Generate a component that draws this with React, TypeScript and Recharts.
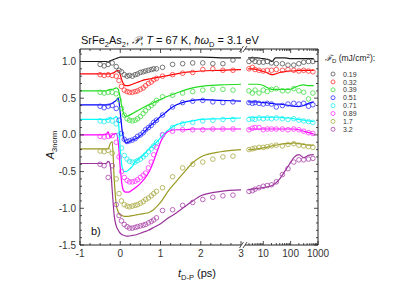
import React from 'react';
import { LineChart, Line, XAxis, YAxis } from 'recharts';

const FONT = '"Liberation Sans", Arial, sans-serif';

// ---------- categories / labels ----------
const SERIES_LABELS = ['0.19', '0.32', '0.39', '0.51', '0.71', '0.89', '1.7', '3.2'];
const LINE_COLORS = ['#1a1a1a', '#ff0000', '#22dd22', '#0000ff', '#00ffff', '#ff00ff', '#999922', '#993399'];
const DOT_COLORS = ['#555555', '#ff3333', '#44dd44', '#3333ff', '#22eeee', '#ff33ff', '#aaaa44', '#aa44aa'];

const X_LEFT_MAJOR = [-1, 0, 1, 2, 3];
const X_RIGHT_MAJOR = [10, 100, 1000];
const Y_MAJOR = [-1.5, -1, -0.5, 0, 0.5, 1];

// ---------- time grids ----------
const T_DOTS_LEFT = [-0.5, -0.4, -0.3, -0.2, -0.1, -0.03, 0.03, 0.1, 0.17, 0.23, 0.3, 0.37, 0.43, 0.5, 0.57, 0.63, 0.7, 0.77, 0.83, 0.9, 1.05, 1.3, 1.55, 1.8, 2.05, 2.3, 2.55, 2.8];
const T_DOTS_RIGHT = [3, 4, 5, 7, 10, 14, 20, 30, 50, 80, 130, 200, 300, 450, 650];
const T_FIT_LEFT = [-1, -0.5, -0.35, -0.3, -0.25, -0.2, -0.15, -0.1, -0.05, 0, 0.05, 0.1, 0.15, 0.2, 0.3, 0.4, 0.5, 0.6, 0.7, 0.8, 0.9, 1.0, 1.1, 1.2, 1.4, 1.6, 1.8, 2.0, 2.5, 3.0];
const T_FIT_RIGHT = [2.8, 4, 6, 9, 13, 17, 21, 28, 40, 60, 90, 130, 200, 300, 450, 700];

// ---------- measured points (circles) ----------
const dots019L = [0.96, 0.94, 0.96, 0.98, 0.93, 0.88, 0.86, 0.82, 0.80, 0.81, 0.80, 0.82, 0.83, 0.85, 0.86, 0.87, 0.88, 0.89, 0.90, 0.90, 0.92, 0.96, 0.97, 0.98, 0.98, 0.97, 0.97, 1.02];
const dots032L = [0.82, 0.81, 0.82, 0.81, 0.80, 0.74, 0.66, 0.61, 0.59, 0.58, 0.58, 0.59, 0.60, 0.62, 0.64, 0.67, 0.70, 0.72, 0.75, 0.77, 0.80, 0.82, 0.84, 0.85, 0.89, 0.90, 0.88, 0.88];
const dots039L = [0.58, 0.57, 0.58, 0.58, 0.56, 0.48, 0.36, 0.27, 0.22, 0.20, 0.19, 0.20, 0.22, 0.25, 0.29, 0.33, 0.37, 0.40, 0.43, 0.47, 0.52, 0.54, 0.57, 0.59, 0.61, 0.62, 0.62, 0.61];
const dots051L = [0.39, 0.37, 0.39, 0.40, 0.36, 0.20, 0.02, -0.06, -0.09, -0.08, -0.07, -0.05, -0.02, 0.00, 0.03, 0.07, 0.10, 0.13, 0.17, 0.20, 0.27, 0.38, 0.44, 0.46, 0.47, 0.45, 0.44, 0.45];
const dots071L = [0.19, 0.18, 0.20, 0.19, 0.15, 0.00, -0.18, -0.28, -0.33, -0.36, -0.37, -0.37, -0.35, -0.33, -0.30, -0.27, -0.23, -0.19, -0.15, -0.10, 0.00, 0.10, 0.15, 0.17, 0.19, 0.20, 0.21, 0.21];
const dots089L = [-0.02, -0.03, -0.02, -0.01, -0.10, -0.30, -0.50, -0.58, -0.62, -0.64, -0.64, -0.63, -0.61, -0.58, -0.55, -0.52, -0.45, -0.37, -0.27, -0.17, 0.00, 0.05, 0.07, 0.07, 0.07, 0.08, 0.08, 0.08];
const dots17L = [-0.22, -0.23, -0.21, -0.25, -0.60, -0.80, -0.90, -0.95, -0.97, -0.98, -0.97, -0.96, -0.95, -0.93, -0.91, -0.88, -0.86, -0.83, -0.80, -0.77, -0.72, -0.57, -0.45, -0.40, -0.37, -0.33, -0.30, -0.29];
const dots32L = [-0.40, -0.42, -0.58, -0.42, -0.95, -1.10, -1.17, -1.22, -1.25, -1.27, -1.27, -1.26, -1.25, -1.24, -1.23, -1.22, -1.20, -1.18, -1.16, -1.13, -1.03, -1.02, -0.96, -0.92, -0.88, -0.85, -0.83, -0.82];

const dots019R = [1.00, 1.03, 1.00, 0.99, 0.99, 1.00, 0.98, 0.97, 0.97, 0.95, 0.95, 0.97, 0.99, 1.00, 1.00];
const dots032R = [0.90, 0.92, 0.89, 0.88, 0.87, 0.88, 0.88, 0.89, 0.88, 0.89, 0.88, 0.87, 0.88, 0.87, 0.86];
const dots039R = [0.60, 0.57, 0.61, 0.57, 0.61, 0.59, 0.62, 0.63, 0.60, 0.60, 0.63, 0.60, 0.58, 0.49, 0.57];
const dots051R = [0.44, 0.43, 0.44, 0.43, 0.42, 0.43, 0.42, 0.38, 0.40, 0.42, 0.43, 0.42, 0.43, 0.39, 0.41];
const dots071R = [0.21, 0.22, 0.21, 0.23, 0.22, 0.23, 0.22, 0.23, 0.22, 0.21, 0.22, 0.20, 0.19, 0.18, 0.17];
const dots089R = [0.07, 0.09, 0.10, 0.10, 0.07, 0.08, 0.08, 0.08, 0.08, 0.07, 0.08, 0.07, 0.05, 0.03, 0.02];
const dots17R = [-0.20, -0.19, -0.18, -0.17, -0.17, -0.16, -0.15, -0.14, -0.15, -0.13, -0.12, -0.14, -0.15, -0.16, -0.17];
const dots32R = [-0.77, -0.76, -0.74, -0.72, -0.70, -0.69, -0.68, -0.64, -0.54, -0.46, -0.37, -0.34, -0.34, -0.33, -0.32];

// ---------- model curves (lines) ----------
const fit019L = [1.00, 1.00, 1.00, 0.99, 1.01, 1.02, 1.03, 1.04, 1.05, 1.06, 1.06, 1.06, 1.06, 1.06, 1.06, 1.06, 1.06, 1.06, 1.06, 1.06, 1.06, 1.06, 1.06, 1.06, 1.06, 1.06, 1.06, 1.06, 1.05, 1.05];
const fit032L = [0.83, 0.83, 0.83, 0.83, 0.83, 0.84, 0.85, 0.87, 0.88, 0.82, 0.73, 0.68, 0.67, 0.67, 0.69, 0.71, 0.73, 0.75, 0.76, 0.77, 0.78, 0.79, 0.80, 0.81, 0.83, 0.85, 0.86, 0.87, 0.88, 0.89];
const fit039L = [0.60, 0.60, 0.60, 0.61, 0.62, 0.62, 0.63, 0.64, 0.62, 0.50, 0.36, 0.27, 0.25, 0.26, 0.29, 0.32, 0.35, 0.38, 0.41, 0.43, 0.46, 0.48, 0.51, 0.53, 0.57, 0.61, 0.64, 0.66, 0.68, 0.69];
const fit051L = [0.41, 0.41, 0.41, 0.41, 0.42, 0.43, 0.45, 0.47, 0.50, 0.30, 0.05, -0.07, -0.11, -0.10, -0.07, -0.05, -0.01, 0.04, 0.10, 0.15, 0.20, 0.25, 0.29, 0.34, 0.41, 0.45, 0.47, 0.48, 0.47, 0.46];
const fit071L = [0.21, 0.21, 0.21, 0.21, 0.24, 0.22, 0.23, 0.25, 0.20, -0.20, -0.45, -0.50, -0.50, -0.48, -0.43, -0.35, -0.31, -0.26, -0.20, -0.15, -0.10, -0.04, 0.02, 0.07, 0.14, 0.17, 0.19, 0.21, 0.22, 0.23];
const fit089L = [0.00, 0.00, 0.01, 0.04, -0.04, 0.00, 0.01, 0.02, -0.10, -0.45, -0.70, -0.77, -0.78, -0.78, -0.75, -0.71, -0.66, -0.60, -0.52, -0.40, -0.25, -0.10, 0.00, 0.05, 0.07, 0.07, 0.08, 0.08, 0.08, 0.08];
const fit17L = [-0.19, -0.19, -0.19, -0.19, -0.12, -0.09, -0.60, -0.95, -1.05, -1.09, -1.10, -1.11, -1.11, -1.11, -1.10, -1.09, -1.08, -1.07, -1.06, -1.03, -0.98, -0.92, -0.84, -0.76, -0.63, -0.50, -0.38, -0.30, -0.23, -0.20];
const fit32L = [-0.39, -0.39, -0.39, -0.36, -0.40, -0.75, -1.10, -1.24, -1.30, -1.34, -1.36, -1.37, -1.38, -1.38, -1.37, -1.36, -1.34, -1.32, -1.30, -1.27, -1.24, -1.21, -1.17, -1.13, -1.06, -0.98, -0.90, -0.83, -0.77, -0.75];

const fit019R = [1.05, 1.05, 1.05, 1.04, 1.03, 1.02, 1.00, 1.05, 1.05, 1.05, 1.04, 1.04, 1.04, 1.04, 1.04, 1.04];
const fit032R = [0.90, 0.90, 0.89, 0.87, 0.85, 0.83, 0.82, 0.83, 0.85, 0.86, 0.87, 0.87, 0.88, 0.88, 0.88, 0.88];
const fit039R = [0.69, 0.69, 0.69, 0.68, 0.65, 0.63, 0.62, 0.62, 0.62, 0.62, 0.62, 0.64, 0.67, 0.68, 0.67, 0.67];
const fit051R = [0.45, 0.45, 0.45, 0.44, 0.44, 0.43, 0.43, 0.42, 0.42, 0.41, 0.40, 0.39, 0.385, 0.40, 0.43, 0.45];
const fit071R = [0.24, 0.24, 0.24, 0.24, 0.24, 0.24, 0.24, 0.24, 0.24, 0.23, 0.23, 0.22, 0.21, 0.20, 0.19, 0.18];
const fit089R = [0.08, 0.08, 0.08, 0.08, 0.08, 0.08, 0.08, 0.08, 0.08, 0.08, 0.08, 0.08, 0.07, 0.05, 0.03, 0.01];
const fit17R = [-0.20, -0.20, -0.19, -0.18, -0.17, -0.16, -0.15, -0.14, -0.13, -0.12, -0.12, -0.11, -0.12, -0.13, -0.14, -0.14];
const fit32R = [-0.75, -0.74, -0.73, -0.72, -0.71, -0.70, -0.69, -0.66, -0.60, -0.50, -0.40, -0.31, -0.27, -0.31, -0.28, -0.27];

const DOTS_LEFT = [dots019L, dots032L, dots039L, dots051L, dots071L, dots089L, dots17L, dots32L];
const DOTS_RIGHT = [dots019R, dots032R, dots039R, dots051R, dots071R, dots089R, dots17R, dots32R];
const FITS_LEFT = [fit019L, fit032L, fit039L, fit051L, fit071L, fit089L, fit17L, fit32L];
const FITS_RIGHT = [fit019R, fit032R, fit039R, fit051R, fit071R, fit089R, fit17R, fit32R];

const zip = (ts: number[], vs: number[]) => ts.map((t, i) => ({ t, v: vs[i] }));

const range = (a: number, b: number, s: number) => {
  const r: number[] = [];
  for (let k = 0; a + k * s <= b + 1e-9; k++) r.push(+(a + k * s).toFixed(4));
  return r;
};

const X_LEFT_TICKS = range(-1, 3, 0.25);
const X_RIGHT_TICKS = [3, 4, 5, 6, 7, 8, 9, 10, 20, 30, 40, 50, 60, 70, 80, 90, 100, 200, 300, 400, 500, 600, 700, 800, 900, 1000];
const Y_TICKS = range(-1.5, 1.1, 0.1);
const Y_DOMAIN: [number, number] = [-1.5, 1.17];

const isMajorIn = (list: number[]) => (v: number) => list.some((m) => Math.abs(m - v) < 1e-6);
const majX = isMajorIn(X_LEFT_MAJOR);
const majXR = isMajorIn(X_RIGHT_MAJOR);
const majY = isMajorIn(Y_MAJOR);

const TICK_COLOR = '#222';
const LABEL_COLOR = '#333';

const makeXTick = (side: 'top' | 'bottom', isMajor: (v: number) => boolean, showLabel: boolean) => (props: any) => {
  const { x, y, payload } = props;
  const major = isMajor(payload.value);
  const len = major ? 4 : 2;
  const dir = side === 'bottom' ? -1 : 1;
  return (
    <g>
      <line x1={x} x2={x} y1={y} y2={y + dir * len} stroke={TICK_COLOR} strokeWidth={0.8} />
      {showLabel && major && (
        <text x={x} y={y + 12} textAnchor="middle" fontSize={10} fontFamily={FONT} fill={LABEL_COLOR}>
          {String(payload.value)}
        </text>
      )}
    </g>
  );
};

const makeYTick = (side: 'left' | 'right', showLabel: boolean) => (props: any) => {
  const { x, y, payload } = props;
  const major = majY(payload.value);
  const len = major ? 4 : 2;
  const dir = side === 'left' ? 1 : -1;
  return (
    <g>
      <line x1={x} x2={x + dir * len} y1={y} y2={y} stroke={TICK_COLOR} strokeWidth={0.8} />
      {showLabel && major && (
        <text x={x - 4} y={y + 3.5} textAnchor="end" fontSize={10} fontFamily={FONT} fill={LABEL_COLOR}>
          {Number(payload.value).toFixed(1)}
        </text>
      )}
    </g>
  );
};

const renderSeries = (ts: number[], fits: number[][], tdots: number[], dots: number[][], prefix: string) => {
  const out: React.ReactNode[] = [];
  fits.forEach((vals, i) => {
    out.push(
      <Line
        key={`${prefix}f${i}`}
        xAxisId="b"
        yAxisId="y"
        data={zip(ts, vals)}
        dataKey="v"
        type="monotone"
        stroke={LINE_COLORS[i]}
        strokeWidth={1.2}
        dot={false}
        activeDot={false}
        isAnimationActive={false}
      />
    );
  });
  dots.forEach((vals, i) => {
    out.push(
      <Line
        key={`${prefix}d${i}`}
        xAxisId="b"
        yAxisId="y"
        data={zip(tdots, vals)}
        dataKey="v"
        stroke="none"
        dot={{ r: 2.3, stroke: DOT_COLORS[i], strokeWidth: 0.8, fill: 'none' }}
        activeDot={false}
        isAnimationActive={false}
      />
    );
  });
  return out;
};

const LeftChart = () => (
  <LineChart width={245} height={294} margin={{ top: 19, right: 4, bottom: 0, left: 0 }}>
    <XAxis
      xAxisId="b"
      type="number"
      dataKey="t"
      domain={[-1, 3]}
      ticks={X_LEFT_TICKS}
      interval={0}
      allowDataOverflow
      height={49}
      tickSize={0}
      tickMargin={0}
      axisLine={{ stroke: TICK_COLOR, strokeWidth: 1 }}
      tickLine={false}
      tick={makeXTick('bottom', majX, true)}
    />
    <XAxis
      xAxisId="t"
      orientation="top"
      type="number"
      dataKey="t"
      domain={[-1, 3]}
      ticks={X_LEFT_TICKS}
      interval={0}
      allowDataOverflow
      height={30}
      tickSize={0}
      tickMargin={0}
      axisLine={{ stroke: TICK_COLOR, strokeWidth: 1 }}
      tickLine={false}
      tick={makeXTick('top', majX, false)}
    />
    <YAxis
      yAxisId="y"
      type="number"
      domain={Y_DOMAIN}
      ticks={Y_TICKS}
      interval={0}
      allowDataOverflow
      width={80}
      tickSize={0}
      tickMargin={0}
      axisLine={{ stroke: TICK_COLOR, strokeWidth: 1 }}
      tickLine={false}
      tick={makeYTick('left', true)}
    />
    {renderSeries(T_FIT_LEFT, FITS_LEFT, T_DOTS_LEFT, DOTS_LEFT, 'L')}
  </LineChart>
);

const RightChart = () => (
  <LineChart width={110} height={294} margin={{ top: 19, right: 0, bottom: 0, left: 4 }}>
    <XAxis
      xAxisId="b"
      type="number"
      dataKey="t"
      scale="log"
      domain={[2.15, 1000]}
      ticks={X_RIGHT_TICKS}
      interval={0}
      allowDataOverflow
      height={49}
      tickSize={0}
      tickMargin={0}
      axisLine={{ stroke: TICK_COLOR, strokeWidth: 1 }}
      tickLine={false}
      tick={makeXTick('bottom', majXR, true)}
    />
    <XAxis
      xAxisId="t"
      orientation="top"
      type="number"
      dataKey="t"
      scale="log"
      domain={[2.15, 1000]}
      ticks={X_RIGHT_TICKS}
      interval={0}
      allowDataOverflow
      height={30}
      tickSize={0}
      tickMargin={0}
      axisLine={{ stroke: TICK_COLOR, strokeWidth: 1 }}
      tickLine={false}
      tick={makeXTick('top', majXR, false)}
    />
    <YAxis
      yAxisId="y"
      orientation="right"
      type="number"
      domain={Y_DOMAIN}
      ticks={Y_TICKS}
      interval={0}
      allowDataOverflow
      width={33}
      tickSize={0}
      tickMargin={0}
      axisLine={{ stroke: TICK_COLOR, strokeWidth: 1 }}
      tickLine={false}
      tick={makeYTick('right', false)}
    />
    {renderSeries(T_FIT_RIGHT, FITS_RIGHT, T_DOTS_RIGHT, DOTS_RIGHT, 'R')}
  </LineChart>
);

const LEGEND_Y0 = 74;
const LEGEND_STEP = 7.9;

const Overlay = () => (
  <svg width={415} height={294} style={{ position: 'absolute', left: 0, top: 0, pointerEvents: 'none' }}>
    {/* title */}
    <text x={81} y={44} fontSize={11} fontFamily={FONT} fill="#111">
      SrFe<tspan fontSize={7.5} dy={3}>2</tspan>
      <tspan dy={-3}>As</tspan>
      <tspan fontSize={7.5} dy={3}>2</tspan>
      <tspan dy={-3}>,  </tspan>
      <tspan fontStyle="italic">{'\uD835\uDCAB'}</tspan>
      <tspan>, </tspan>
      <tspan fontStyle="italic">T</tspan>
      <tspan> = 67 K, </tspan>
      <tspan fontStyle="italic">ħω</tspan>
      <tspan fontSize={7.5} dy={3}>D</tspan>
      <tspan dy={-3}> = 3.1 eV</tspan>
    </text>
    {/* axis break marks */}
    <line x1={239.5} y1={52} x2={243.5} y2={46} stroke={TICK_COLOR} strokeWidth={0.8} />
    <line x1={243} y1={52} x2={247} y2={46} stroke={TICK_COLOR} strokeWidth={0.8} />
    <line x1={239.5} y1={248} x2={243.5} y2={242} stroke={TICK_COLOR} strokeWidth={0.8} />
    <line x1={243} y1={248} x2={247} y2={242} stroke={TICK_COLOR} strokeWidth={0.8} />
    {/* y label */}
    <text transform="translate(54,145) rotate(-90)" textAnchor="middle" fontSize={11} fontFamily={FONT} fill="#111">
      <tspan fontStyle="italic">A</tspan>
      <tspan fontSize={7.5} dy={3}>3norm</tspan>
    </text>
    {/* x label */}
    <text x={178} y={277} fontSize={11} fontFamily={FONT} fill="#111">
      <tspan fontStyle="italic">t</tspan>
      <tspan fontSize={7.5} dy={3}>D-P</tspan>
      <tspan dy={-3}> (ps)</tspan>
    </text>
    {/* panel label */}
    <text x={91} y={235} fontSize={11} fontFamily={FONT} fill="#111">b)</text>
    {/* legend */}
    <text x={325} y={61} fontSize={8.5} fontFamily={FONT} fill="#222">
      <tspan fontStyle="italic">ℱ</tspan>
      <tspan fontSize={6} dy={2}>D</tspan>
      <tspan dy={-2}> (mJ/cm</tspan>
      <tspan fontSize={6} dy={-3}>2</tspan>
      <tspan dy={3}>):</tspan>
    </text>
    {SERIES_LABELS.map((lab, i) => (
      <g key={lab}>
        <circle cx={333} cy={LEGEND_Y0 + i * LEGEND_STEP} r={2} fill="none" stroke={DOT_COLORS[i]} strokeWidth={0.8} />
        <text x={343} y={LEGEND_Y0 + 2.6 + i * LEGEND_STEP} fontSize={7} fontFamily={FONT} fill="#333">
          {lab}
        </text>
      </g>
    ))}
  </svg>
);

export default function App() {
  return (
    <div style={{ position: 'absolute', left: 0, top: 0, width: 415, height: 294, background: '#fff', overflow: 'hidden' }}>
      <div style={{ position: 'absolute', left: 0, top: 0 }}>
        <LeftChart />
      </div>
      <div style={{ position: 'absolute', left: 241, top: 0 }}>
        <RightChart />
      </div>
      <Overlay />
    </div>
  );
}
